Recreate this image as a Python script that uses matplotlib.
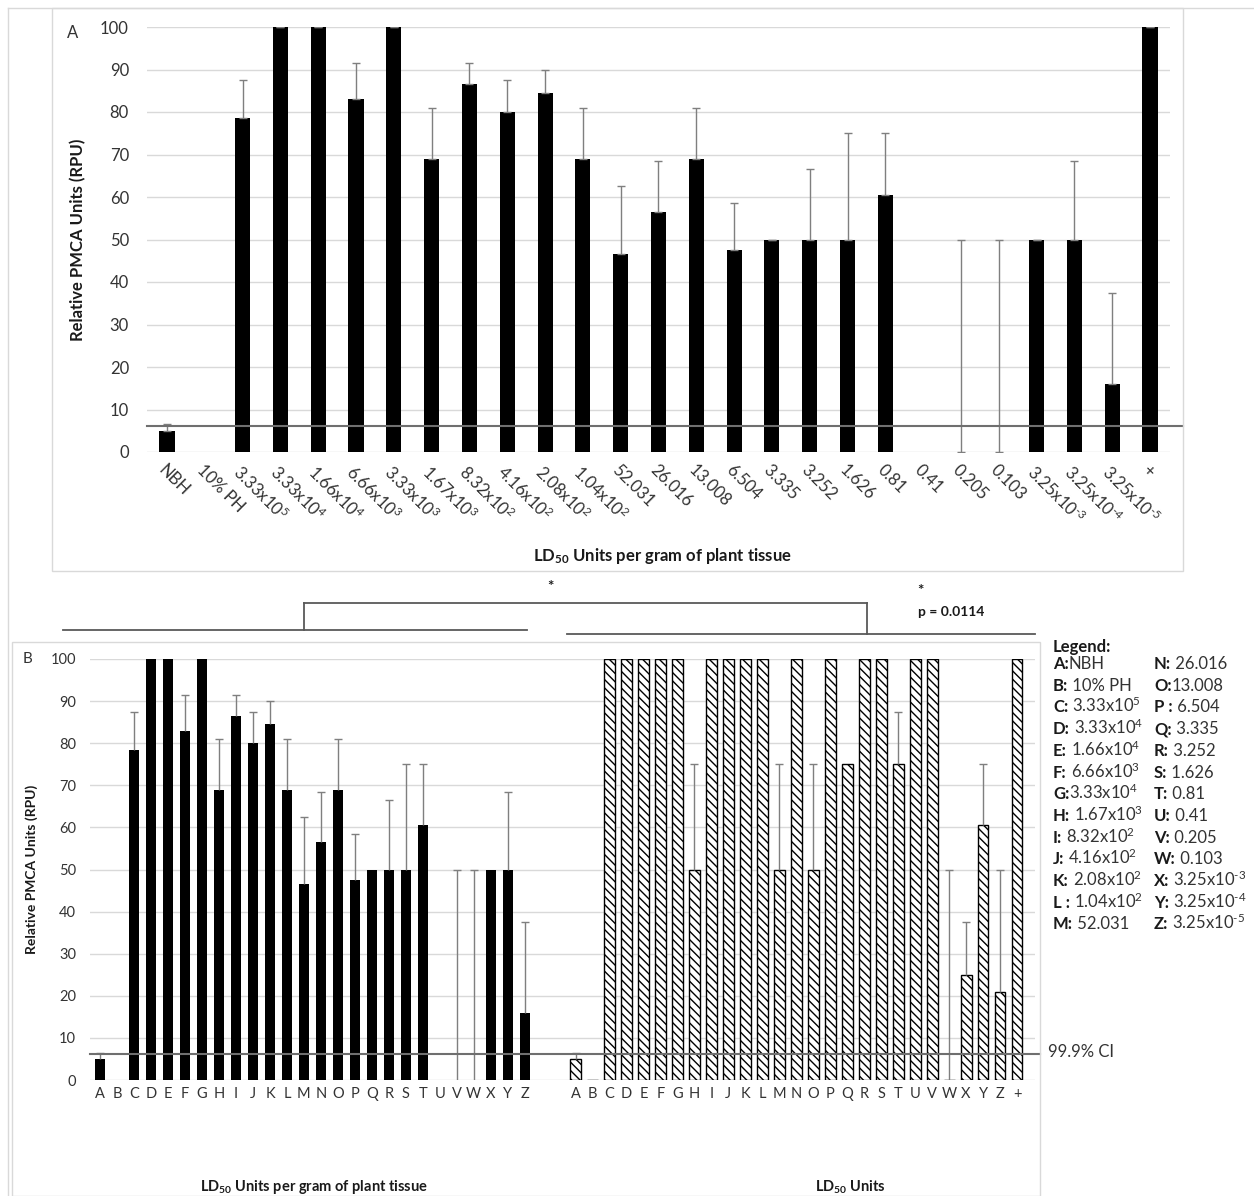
import numpy as np
import matplotlib.pyplot as plt
from matplotlib.lines import Line2D
from matplotlib.patches import Rectangle

plt.rcParams['font.family'] = ['Lato', 'DejaVu Sans']
plt.rcParams['mathtext.fontset'] = 'custom'
plt.rcParams['mathtext.rm'] = 'Lato'
plt.rcParams['mathtext.bf'] = 'Lato:bold'
plt.rcParams['mathtext.it'] = 'Lato:italic'
plt.rcParams['mathtext.default'] = 'regular'
plt.rcParams['hatch.linewidth'] = 1.0

# ---- data ----
a_labels = ['NBH', '10% PH', '3.33x10$^{5}$', '3.33x10$^{4}$', '1.66x10$^{4}$', '6.66x10$^{3}$',
            '3.33x10$^{3}$', '1.67x10$^{3}$', '8.32x10$^{2}$', '4.16x10$^{2}$', '2.08x10$^{2}$',
            '1.04x10$^{2}$', '52.031', '26.016', '13.008', '6.504', '3.335', '3.252', '1.626',
            '0.81', '0.41', '0.205', '0.103', r'3.25x10$^{\text{-}3}$', r'3.25x10$^{\text{-}4}$',
            r'3.25x10$^{\text{-}5}$', '+']
a_vals = [5, 0, 78.5, 100, 100, 83, 100, 69, 86.5, 80, 84.5, 69, 46.5, 56.5, 69, 47.5,
          50, 50, 50, 60.5, 0, 0, 0, 50, 50, 16, 100]
a_top = [6.5, 0, 87.5, 100, 100, 91.5, 100, 81, 91.5, 87.5, 90, 81, 62.5, 68.5, 81, 58.5,
         50, 66.5, 75, 75, 0, 50, 50, 50, 68.5, 37.5, 100]

b_left_labels = list('ABCDEFGHIJKLMNOPQRSTUVWXYZ')
b_left_vals = a_vals[:26]
b_left_top = a_top[:26]
b_right_labels = list('ABCDEFGHIJKLMNOPQRSTUVWXYZ') + ['+']
b_right_vals = [5, 0, 100, 100, 100, 100, 100, 50, 100, 100, 100, 100, 50, 100, 50, 100,
                75, 100, 100, 75, 100, 100, 0, 25, 60.5, 21, 100]
b_right_top = [6.5, 0, 100, 100, 100, 100, 100, 75, 100, 100, 100, 100, 75, 100, 75, 100,
               75, 100, 100, 87.5, 100, 100, 50, 37.5, 75, 50, 100]
ci_level = 6.2

legend_col1 = [('A', 'NBH'), ('B', ' 10% PH'), ('C', ' 3.33x10$^{5}$'), ('D', ' 3.33x10$^{4}$'),
               ('E', ' 1.66x10$^{4}$'), ('F', ' 6.66x10$^{3}$'), ('G', '3.33x10$^{4}$'),
               ('H', ' 1.67x10$^{3}$'), ('I', ' 8.32x10$^{2}$'), ('J', ' 4.16x10$^{2}$'),
               ('K', ' 2.08x10$^{2}$'), ('L ', ' 1.04x10$^{2}$'), ('M', ' 52.031')]
legend_col2 = [('N', ' 26.016'), ('O', '13.008'), ('P ', ' 6.504'), ('Q', ' 3.335'), ('R', ' 3.252'),
               ('S', ' 1.626'), ('T', ' 0.81'), ('U', ' 0.41'), ('V', ' 0.205'), ('W', ' 0.103'),
               ('X', r' 3.25x10$^{\text{-}3}$'), ('Y', r' 3.25x10$^{\text{-}4}$'),
               ('Z', r' 3.25x10$^{\text{-}5}$')]

W, H = 1254, 1196
fig = plt.figure(figsize=(W / 100, H / 100), dpi=100)


def fx(x):
    return x / W


def fy(y):
    return 1 - y / H


grey = '#7f7f7f'
tick_col = '#333333'
title_col = '#1a1a1a'
frame = '#d9d9d9'

# frames
fig.add_artist(Line2D([fx(8), fx(8)], [fy(8), fy(1196)], color=frame, lw=1))
fig.add_artist(Line2D([fx(8), fx(1254)], [fy(8), fy(8)], color=frame, lw=1))
fig.add_artist(Rectangle((fx(52), fy(571)), fx(1183) - fx(52), fy(8) - fy(571),
                         fill=False, ec=frame, lw=1))
fig.add_artist(Rectangle((fx(12), fy(1196)), fx(1040) - fx(12), fy(642) - fy(1196),
                         fill=False, ec=frame, lw=1))


def style(ax):
    for s in ax.spines.values():
        s.set_visible(False)
    ax.set_ylim(0, 100)
    ax.set_yticks(range(0, 101, 10))
    ax.yaxis.grid(True, color=frame, lw=1, zorder=0)
    ax.set_axisbelow(True)
    ax.tick_params(length=0, labelcolor=tick_col)


# ---- panel A ----
axA = fig.add_axes([fx(147), fy(452), (1170 - 147) / W, 425 / H])
style(axA)
xa = np.arange(len(a_vals))
va_ = np.array(a_vals, float)
ta_ = np.array(a_top, float)
axA.bar(xa, va_, width=0.4, color='black', zorder=3)
m = ta_ > 0
axA.errorbar(xa[m], va_[m], yerr=[np.zeros(m.sum()), (ta_ - va_)[m]], fmt='none',
             ecolor=grey, elinewidth=1, capsize=3, capthick=1, zorder=4)
axA.plot([-0.53, 26.88], [ci_level, ci_level], color='#6f6f6f', lw=1.5, clip_on=False, zorder=5)
axA.set_xlim(-0.53, 26.53)
axA.tick_params(axis='y', labelsize=12, pad=13)
axA.set_xticks(xa, a_labels, rotation=-45, ha='left', va='top', rotation_mode='anchor')
axA.tick_params(axis='x', labelsize=12, pad=7)
axA.set_ylabel('Relative PMCA Units (RPU)', fontsize=12, fontweight='bold', color=title_col)
axA.yaxis.set_label_coords((86 - 147) / 1023, 0.5)
fig.text(fx(662), fy(556), r'LD$_{\mathbf{50}}$ Units per gram of plant tissue', fontsize=12,
         fontweight='bold', color=title_col, ha='center', va='center')
fig.text(fx(73), fy(33), 'A', fontsize=12, color=tick_col, ha='center', va='center')

# ---- panel B ----
axB = fig.add_axes([fx(90), fy(1080), (1035 - 90) / W, 421 / H])
style(axB)
xl = np.arange(len(b_left_vals))
xr = np.arange(len(b_right_vals)) + 28
vl = np.array(b_left_vals, float)
tl = np.array(b_left_top, float)
vr = np.array(b_right_vals, float)
tr = np.array(b_right_top, float)
axB.bar(xl, vl, width=0.6, color='black', zorder=3)
axB.bar(xr, vr, width=0.64, color='white', edgecolor='black', hatch='\\\\\\\\', lw=1, zorder=3)
for xs, vs, ts in [(xl, vl, tl), (xr, vr, tr)]:
    m = ts > vs
    axB.errorbar(xs[m], vs[m], yerr=[np.zeros(m.sum()), (ts - vs)[m]], fmt='none',
                 ecolor=grey, elinewidth=1, capsize=0, zorder=4)
    axB.plot(xs[m], ts[m], ls='none', marker='_', ms=6, mew=1, color=grey, zorder=4)
axB.plot([-0.6, 55.36], [ci_level, ci_level], color='#6f6f6f', lw=1.5, clip_on=False, zorder=5)
axB.set_xlim(-0.6, 55.06)
axB.set_xticks(np.concatenate([xl, xr]), b_left_labels + b_right_labels)
axB.tick_params(axis='x', labelsize=10.5, pad=5)
axB.tick_params(axis='y', labelsize=10.5, pad=10)
axB.set_ylabel('Relative PMCA Units (RPU)', fontsize=10, fontweight='bold', color=title_col)
axB.yaxis.set_label_coords((38 - 90) / 945, (1080 - 869) / 421)
fig.text(fx(1048), fy(1052), '99.9% CI', fontsize=12, color=tick_col, ha='left', va='center')
fig.text(fx(314), fy(1187), r'LD$_{\mathbf{50}}$ Units per gram of plant tissue', fontsize=10.5,
         fontweight='bold', color=title_col, ha='center', va='center')
fig.text(fx(850), fy(1187), r'LD$_{\mathbf{50}}$ Units', fontsize=10.5,
         fontweight='bold', color=title_col, ha='center', va='center')
fig.text(fx(28), fy(659), 'B', fontsize=11, color=tick_col, ha='center', va='center')

# significance brackets
br = '#595959'
for xs, ys in [([63, 527], [630, 630]), ([304, 304], [603, 630]), ([304, 867], [603, 603]),
               ([867, 867], [603, 634]), ([567, 1035], [634, 634])]:
    fig.add_artist(Line2D([fx(v) for v in xs], [fy(v) for v in ys], color=br, lw=1.3))
fig.text(fx(550), fy(587), '*', fontsize=11, fontweight='bold', color=title_col, ha='center', va='center')
fig.text(fx(920), fy(591), '*', fontsize=11, fontweight='bold', color=title_col, ha='center', va='center')
fig.text(fx(918), fy(612), 'p = 0.0114', fontsize=10, fontweight='bold', color=title_col,
         ha='left', va='center')

# legend text
fig.text(fx(1053), fy(647), 'Legend:', fontsize=12, fontweight='bold', color=title_col, va='center')
for col_x, entries in [(1053, legend_col1), (1154, legend_col2)]:
    for i, (k, v) in enumerate(entries):
        t = fig.text(fx(col_x), fy(669 + 21.7 * i), k + ':', fontsize=12, fontweight='bold',
                     color=title_col, va='baseline')
        fig.add_artist(plt.Annotation(v, xy=(1, 0), xycoords=t, fontsize=12, color=tick_col,
                                      ha='left', va='bottom'))

fig.savefig('out.png', dpi=100)
